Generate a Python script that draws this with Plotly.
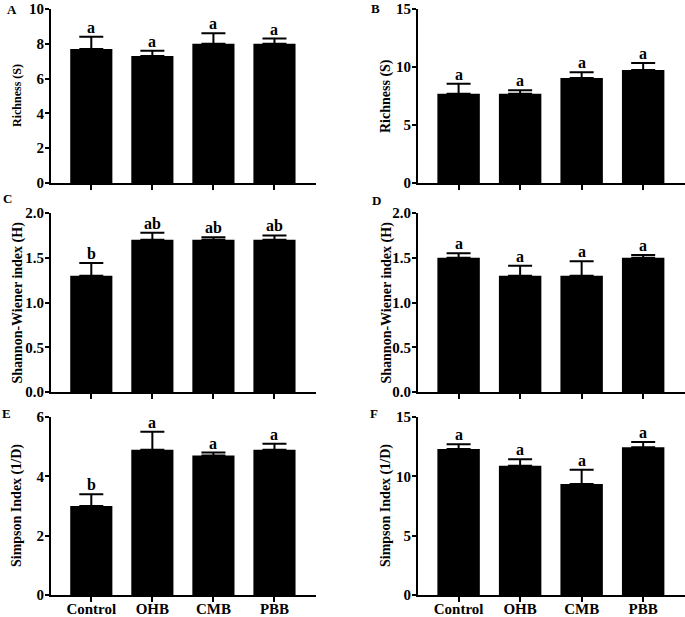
import plotly.graph_objects as go

categories = ["Control", "OHB", "CMB", "PBB"]

richness_soil = [7.7, 7.3, 8.0, 8.0]
richness_soil_err = [0.7, 0.3, 0.6, 0.3]
richness_soil_sig = ["a", "a", "a", "a"]

richness_b = [7.7, 7.7, 9.05, 9.75]
richness_b_err = [0.85, 0.3, 0.5, 0.6]
richness_b_sig = ["a", "a", "a", "a"]

shannon_c = [1.3, 1.7, 1.7, 1.7]
shannon_c_err = [0.14, 0.08, 0.03, 0.05]
shannon_c_sig = ["b", "ab", "ab", "ab"]

shannon_d = [1.5, 1.3, 1.3, 1.5]
shannon_d_err = [0.05, 0.11, 0.16, 0.03]
shannon_d_sig = ["a", "a", "a", "a"]

simpson_e = [3.0, 4.9, 4.7, 4.9]
simpson_e_err = [0.4, 0.6, 0.1, 0.2]
simpson_e_sig = ["b", "a", "a", "a"]

simpson_f = [12.3, 10.9, 9.35, 12.45]
simpson_f_err = [0.4, 0.55, 1.2, 0.45]
simpson_f_sig = ["a", "a", "a", "a"]

panel_letters = ["A", "B", "C", "D", "E", "F"]
y_titles = ["Richness (S)", "Richness (S)", "Shannon-Wiener index (H)",
            "Shannon-Wiener index (H)", "Simpson Index (1/D)", "Simpson Index (1/D)"]
y_ranges = [[0, 10], [0, 15], [0, 2.0], [0, 2.0], [0, 6], [0, 15]]
y_dticks = [2, 5, 0.5, 0.5, 2, 5]
y_tickformats = ["d", "d", ".1f", ".1f", "d", "d"]

panels = [
    (richness_soil, richness_soil_err, richness_soil_sig),
    (richness_b, richness_b_err, richness_b_sig),
    (shannon_c, shannon_c_err, shannon_c_sig),
    (shannon_d, shannon_d_err, shannon_d_sig),
    (simpson_e, simpson_e_err, simpson_e_sig),
    (simpson_f, simpson_f_err, simpson_f_sig),
]

W, H = 685, 617
FONT = "Liberation Serif"

# pixel layout
x_dom_px = [(51, 316), (418, 685)]
y_dom_px = [(9, 183), (213, 392), (417, 595)]
letter_pos = [(12, 9), (375, 8), (8, 198), (376, 200), (6, 413), (374, 413)]
ytitle_x = [17, 386]

fig = go.Figure()
annotations = []
layout_axes = {}

for i, (vals, errs, sig) in enumerate(panels):
    row, col = divmod(i, 2)
    n = i + 1
    xa = "x" if n == 1 else f"x{n}"
    ya = "y" if n == 1 else f"y{n}"
    xkey = "xaxis" if n == 1 else f"xaxis{n}"
    ykey = "yaxis" if n == 1 else f"yaxis{n}"

    fig.add_trace(go.Bar(
        x=categories, y=vals, xaxis=xa, yaxis=ya,
        marker=dict(color="black", line=dict(width=0)),
        width=0.69,
        error_y=dict(type="data", array=errs, arrayminus=[0] * len(errs), symmetric=False,
                     color="black", thickness=2, width=12),
        showlegend=False, hoverinfo="skip",
    ))

    x0, x1 = x_dom_px[col]
    y0, y1 = y_dom_px[row]
    layout_axes[xkey] = dict(
        domain=[x0 / W, x1 / W], anchor=ya, range=[-0.66, 3.68],
        automargin=False,
        showline=True, linecolor="black", linewidth=2,
        ticks="outside", ticklen=5, tickwidth=2, tickcolor="black",
        showgrid=False, zeroline=False,
        showticklabels=(row == 2),
        ticklabelstandoff=-6,
        ticklabeloverflow="allow",
        tickfont=dict(family=FONT, size=15, color="black", weight="bold"),
        categoryorder="array", categoryarray=categories,
    )
    layout_axes[ykey] = dict(
        domain=[1 - y1 / H, 1 - y0 / H], anchor=xa, range=y_ranges[i],
        automargin=False,
        dtick=y_dticks[i], tickformat=y_tickformats[i],
        showline=True, linecolor="black", linewidth=2,
        ticks="outside", ticklen=4, tickwidth=2, tickcolor="black",
        showgrid=False, zeroline=False,
        ticklabelstandoff=-2,
        ticklabeloverflow="allow",
        tickfont=dict(family=FONT, size=15, color="black", weight="bold"),
    )

    for c, v, e, s in zip(categories, vals, errs, sig):
        annotations.append(dict(
            x=c, y=v + e, xref=xa, yref=ya, text=s, showarrow=False,
            yanchor="bottom", yshift=-1,
            font=dict(family=FONT, size=16, color="black", weight="bold"),
        ))

    lx, ly = letter_pos[i]
    annotations.append(dict(
        x=lx / W, y=1 - ly / H, xref="paper", yref="paper", text=panel_letters[i],
        showarrow=False, xanchor="center", yanchor="middle",
        font=dict(family=FONT, size=13, color="black", weight="bold"),
    ))

    annotations.append(dict(
        x=ytitle_x[col] / W, y=1 - (y0 + y1) / 2 / H, xref="paper", yref="paper",
        text=y_titles[i], textangle=-90, showarrow=False,
        xanchor="center", yanchor="middle",
        font=dict(family=FONT, size=12 if i == 0 else 14, color="black", weight="bold"),
    ))

fig.update_layout(
    template="none",
    width=W, height=H,
    margin=dict(l=0, r=0, t=0, b=0, autoexpand=False),
    paper_bgcolor="white", plot_bgcolor="white",
    bargap=0.3,
    annotations=annotations,
    **layout_axes,
)

fig.write_html(
    "out.html",
    config={"displayModeBar": False},
    post_script="document.body.style.margin='0';document.body.style.padding='0';",
)
